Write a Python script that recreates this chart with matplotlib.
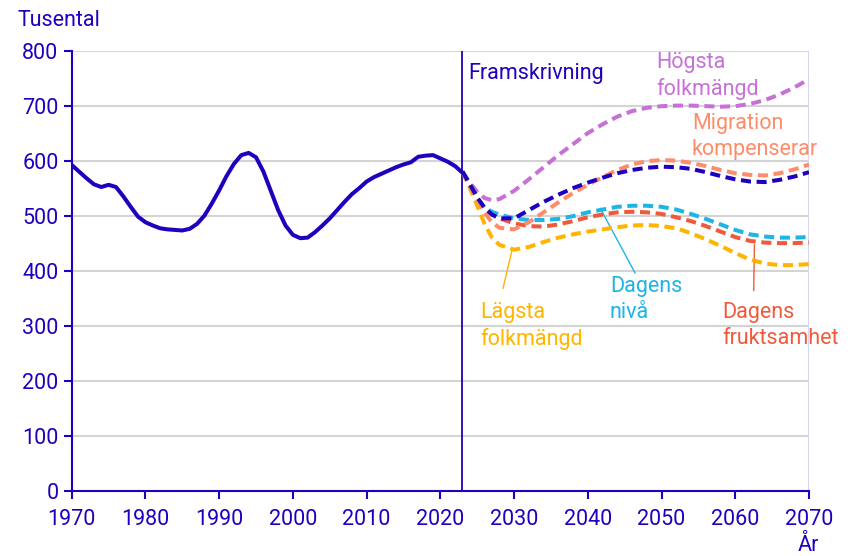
import matplotlib.pyplot as plt

plt.rcParams['font.family'] = ['Roboto', 'DejaVu Sans']

INDIGO = '#1e00be'
PURPLE = '#c771d6'
SALMON = '#ff8c69'
SKY = '#1eb4e6'
RED = '#f05a3c'
AMBER = '#ffb400'

hist_years = list(range(1970, 2024))
hist_values = [592, 580, 568, 557, 552, 556, 552, 535, 516, 498,
               488, 482, 477, 475, 474, 473, 476, 485, 500, 522,
               546, 572, 594, 610, 614, 606, 580, 545, 510, 482,
               465, 459, 460, 470, 482, 495, 510, 525, 539, 550,
               562, 570, 576, 582, 588, 593, 597, 607, 609, 610,
               604, 598, 590, 578]

proj_years = [2023, 2024, 2025, 2026, 2027, 2028, 2030, 2032, 2034, 2036,
              2038, 2040, 2042, 2044, 2046, 2048, 2050, 2052, 2054, 2056,
              2058, 2060, 2062, 2064, 2066, 2068, 2070]

hogsta = [580, 560, 543, 532, 528, 530, 545, 566, 588, 610,
          630, 650, 666, 680, 690, 696, 699, 700, 700, 699,
          698, 699, 703, 710, 720, 733, 748]
huvud = [580, 557, 533, 514, 502, 495, 495, 510, 525, 538,
         550, 560, 569, 577, 583, 587, 589, 588, 585, 579,
         572, 566, 562, 561, 565, 571, 579]
migration = [580, 555, 530, 505, 488, 478, 475, 488, 506, 524,
             541, 556, 570, 583, 593, 599, 601, 600, 596, 590,
             583, 577, 574, 573, 577, 584, 593]
dagens_niva = [580, 556, 532, 515, 507, 502, 495, 492, 492, 494,
               499, 506, 511, 516, 518, 518, 516, 511, 503, 494,
               484, 474, 466, 462, 460, 460, 461]
dagens_frukt = [580, 555, 530, 512, 502, 495, 486, 481, 480, 484,
                490, 497, 502, 506, 507, 506, 503, 497, 490, 481,
                471, 461, 454, 451, 450, 450, 451]
lagsta = [580, 550, 518, 485, 460, 447, 438, 443, 452, 460,
          466, 471, 475, 479, 482, 483, 481, 477, 468, 457,
          445, 432, 420, 413, 410, 410, 412]

fig = plt.figure(figsize=(8.48, 5.56), dpi=100)
ax = fig.add_axes([0.0846, 0.1175, 0.8694, 0.7915])

for y in range(100, 800, 100):
    ax.axhline(y, color='#d4d4d4', lw=1.5, zorder=0)
ax.axhline(800, color='#d6d6f2', lw=1.5, zorder=0)
ax.axvline(2070, color='#d6d6f2', lw=1.5, zorder=0)

ax.plot(hist_years, hist_values, color=INDIGO, lw=2.9,
        solid_capstyle='round', solid_joinstyle='round', zorder=5)

dash = (2.5, 1.4)
series = [(hogsta, PURPLE), (lagsta, AMBER), (dagens_frukt, RED),
          (dagens_niva, SKY), (migration, SALMON), (huvud, INDIGO)]
for values, color in series:
    ax.plot(proj_years, values, color=color, lw=2.9, dashes=dash, zorder=4)

ax.axvline(2023, color=INDIGO, lw=1.3, zorder=3)
fs = 15.5
ax.text(2023.8, 758, 'Framskrivning', color=INDIGO, fontsize=fs,
        va='center', ha='left')

label_kw = dict(fontsize=fs, ha='left', va='top', linespacing=1.3)
ax.text(2049.3, 798, 'Högsta\nfolkmängd', color=PURPLE, **label_kw)
ax.text(2054.1, 687, 'Migration\nkompenserar', color=SALMON, **label_kw)
ax.text(2052 - 9.0, 390, 'Dagens\nnivå', color=SKY, **label_kw)
ax.text(2025.4, 343, 'Lägsta\nfolkmängd', color=AMBER, **label_kw)
ax.text(2058.3, 343, 'Dagens\nfruktsamhet', color=RED, **label_kw)

ax.plot([2046.4, 2041.7], [396, 513], color=SKY, lw=1)
ax.plot([2028.5, 2029.7], [368, 436], color=AMBER, lw=1)
ax.plot([2062.5, 2062.6], [364, 447], color=RED, lw=1)

ax.set_xlim(1970, 2070)
ax.set_ylim(0, 800)
ax.set_xticks(range(1970, 2071, 10))
ax.set_yticks(range(0, 801, 100))

for side in ['top', 'right']:
    ax.spines[side].set_visible(False)
for side in ['left', 'bottom']:
    ax.spines[side].set_color(INDIGO)
    ax.spines[side].set_linewidth(1.5)
ax.tick_params(colors=INDIGO, labelsize=fs, width=1.5, length=6)
ax.tick_params(axis='x', pad=7)

fig.text(0.021, 0.963, 'Tusental', color=INDIGO, fontsize=fs, va='center')
fig.text(0.953, 0.018, 'År', color=INDIGO, fontsize=fs, ha='center', va='center')

fig.savefig('out.png', dpi=100)
